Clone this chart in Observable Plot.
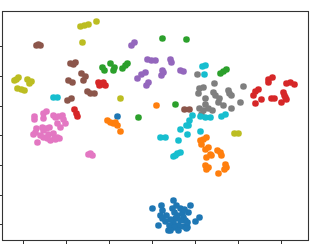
<!DOCTYPE html>
<html>
<head>
<meta charset="utf-8">
<script src="https://cdn.jsdelivr.net/npm/d3@7"></script>
<script src="https://cdn.jsdelivr.net/npm/@observablehq/plot@0.6"></script>
<style>
  html, body { margin: 0; padding: 0; background: #fff; }
  svg { display: block; }
</style>
</head>
<body>
<div id="chart"></div>
<script>
// Embedding coordinates (arbitrary units, y grows downward)
const classes = ["0","1","2","3","4","5","6","7","8","9"];
const colors = ["#1f77b4","#ff7f0e","#2ca02c","#d62728","#9467bd","#8c564b","#e377c2","#7f7f7f","#bcbd22","#17becf"];
const xTicks = [23, 66, 109, 152, 195, 238, 281];
const yTicks = [46, 76, 106, 135, 165, 195, 224];

const c0 = [[117,116],[152,208],[161,205],[173,200],[162,210],[160,215],[162,218],[158,225],[168,230],
  [172,208],[174,212],[177,215],[175,218],[173,222],[180,208],[182,213],[183,217],[185,220],[178,225],
  [183,226],[187,227],[180,220],[169,225],[190,205],[188,212],[195,221],[199,217],[174,227],[187,222],
  [170,219],[186,228],[170,230],[166,215],[176,205],[165,221],[178,230],[184,209]];
const c1 = [[156,105],[107,120],[110,122],[113,123],[117,125],[115,122],[120,131],
  [200,140],[201,144],[206,137],[205,149],[210,154],[211,155],[206,157],[217,150],[220,152],[221,155],
  [205,165],[206,169],[208,167],[218,173],[225,164],[226,167],[224,169],[203,139],[208,147]];
const c2 = [[104,70],[102,67],[110,63],[113,70],[114,67],[122,68],[125,65],[127,63],[162,38],[186,39],
  [175,104],[138,117],[220,73],[223,71],[226,69]];
const c3 = [[98,82],[101,84],[105,85],[99,85],[103,82],[74,109],[76,113],[77,116],
  [268,79],[272,77],[268,82],[290,82],[294,84],[286,83],[255,91],[258,89],[253,95],[261,99],[255,103],
  [271,98],[274,98],[283,92],[285,97],[281,102],[286,99],[284,95]];
const c4 = [[131,45],[134,42],[147,59],[151,60],[155,60],[170,59],[171,62],[145,72],[141,74],[137,78],
  [146,85],[148,82],[161,75],[163,72],[162,70],[180,70],[183,71]];
const c5 = [[36,45],[40,45],[38,44],[70,63],[75,62],[73,64],[81,73],[85,76],[83,80],[68,80],[72,82],
  [87,91],[90,93],[94,93],[67,100],[71,98],[184,109],[189,109]];
const c6 = [[34,116],[34,119],[43,113],[46,111],[43,118],[53,115],[55,117],[58,116],[62,115],[63,119],
  [65,123],[57,123],[60,127],[36,128],[35,132],[33,134],[42,127],[43,130],[46,128],[49,127],[40,135],
  [43,137],[47,138],[48,134],[53,133],[54,138],[57,137],[59,138],[37,142],[50,140],[55,139],
  [88,154],[92,155],[90,153]];
const c7 = [[197,74],[214,83],[199,88],[203,87],[198,93],[213,92],[215,95],[219,98],[228,90],[229,93],
  [231,95],[243,86],[240,102],[205,98],[218,102],[223,105],[231,108],[199,108],[203,110],[208,108],
  [212,110],[201,114],[205,104]];
const c8 = [[80,26],[84,25],[88,24],[96,21],[82,42],[14,80],[18,77],[16,79],[27,79],[31,81],[29,83],
  [17,88],[21,89],[24,90],[120,98],[234,133],[238,133]];
const c9 = [[53,97],[57,97],[202,66],[205,65],[204,74],[192,115],[189,120],[188,125],[180,129],[187,134],
  [178,140],[200,116],[205,117],[210,117],[160,137],[165,137],[173,156],[177,153],[180,152],[175,155],
  [221,116],[225,114],[200,131],[186,125]];

const groups = [c0,c1,c2,c3,c4,c5,c6,c7,c8,c9];
const data = groups.flatMap((g, i) => g.map(([x, y]) => ({x, y, c: classes[i]})));

const chart = Plot.plot({
  width: 336,
  height: 244,
  marginLeft: 2,
  marginRight: 28,
  marginTop: 11,
  marginBottom: 4,
  style: {background: "#fff"},
  x: {domain: [2, 308]},
  y: {domain: [240, 11]},
  color: {domain: classes, range: colors},
  marks: [
    Plot.dot(data, {x: "x", y: "y", fill: "c", r: 3.3, stroke: null}),
    Plot.frame({stroke: "#333", strokeWidth: 1.1}),
    Plot.axisX(xTicks, {anchor: "bottom", tickSize: 4, tickFormat: () => "", label: null, stroke: "#333"}),
    Plot.axisY(yTicks, {anchor: "left", tickSize: 4, tickFormat: () => "", label: null, stroke: "#333"})
  ]
});
document.getElementById("chart").appendChild(chart);
</script>
</body>
</html>
